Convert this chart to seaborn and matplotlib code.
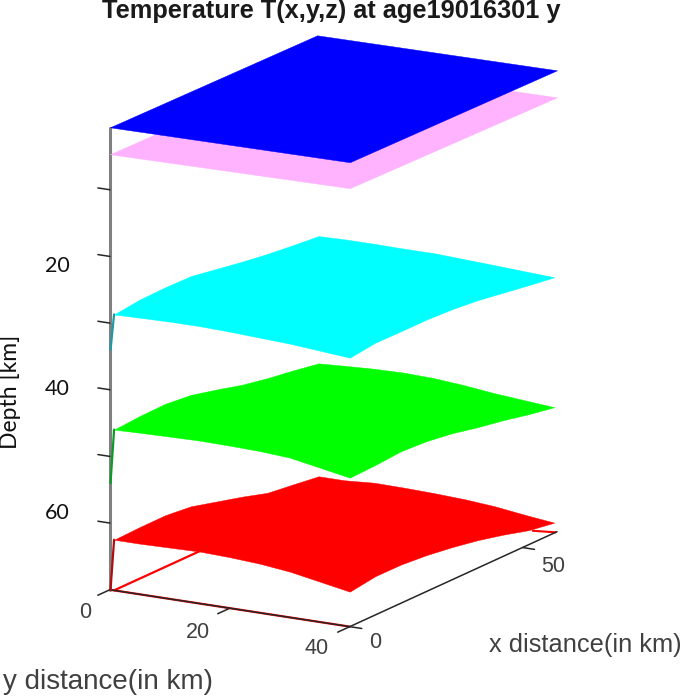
import matplotlib
matplotlib.use('Agg')
import matplotlib.pyplot as plt
import seaborn as sns
from mpl_toolkits.mplot3d.art3d import Poly3DCollection

sns.set_theme(style='white')

# positions along the edges of a surface (km)
x_nodes = [0, 7.4, 14.8, 22.2, 29.6, 37, 44.4, 51.8, 59.2]
y_nodes = [0.7, 5, 10, 15, 20, 25, 30, 35, 40]

# depth (km) along the four edges of each surface
red_y0 = [62.4, 62.26, 62.24, 62.66, 63.7, 64.73, 65.9, 66.4, 66.94]
red_xmax = [66.94, 66.94, 66.62, 66.67, 66.8, 67.0, 67.36, 67.94, 68.45]
red_y40 = [64.75, 64.18, 64.2, 64.54, 65.1, 65.81, 66.74, 67.82, 68.45]
red_x0 = [62.4, 62.4, 62.3, 62.2, 62.35, 62.63, 63.13, 63.94, 64.75]

green_y0 = [45.88, 45.6, 45.52, 45.94, 46.9, 47.93, 48.7, 49.3, 50.0]
green_xmax = [50.0, 49.76, 49.52, 49.42, 49.55, 49.91, 50.41, 50.77, 51.13]
green_y40 = [47.65, 47.5, 47.2, 47.44, 48.01, 48.86, 49.57, 50.42, 51.13]
green_x0 = [45.88, 45.76, 45.65, 45.56, 45.62, 45.74, 46.03, 46.84, 47.65]

cyan_y0 = [28.6, 28.13, 28.04, 28.12, 28.8, 29.48, 30.05, 30.5, 30.9]
cyan_xmax = [30.9, 30.79, 30.77, 30.82, 30.8, 31.0, 31.2, 31.42, 31.63]
cyan_y40 = [29.65, 29.15, 29.2, 29.21, 29.41, 29.81, 30.44, 31.07, 31.63]
cyan_x0 = [28.6, 28.5, 28.4, 28.39, 28.52, 28.73, 28.93, 29.29, 29.65]

# flat layers: corners (x, y) and depth
flat_x = [0, 60, 60, 0]
flat_y = [0, 0, 40, 40]
pink_depth = [4.67, 5.2, 4.83, 4.22]
blue_depth = [0.63, 1.07, 0.78, 0.33]

# corner spikes: depth of the surface corner and of the lower end
spike_cyan = [28.6, 34]
spike_green = [45.88, 54]
spike_red = [62.4, 70]

z_ticks = [10, 20, 30, 40, 50, 60]
z_labels = ['20', '40', '60']
y_ticks = [0, 20, 40]
x_ticks = [0, 50]

W, H = 685, 699
fig = plt.figure(figsize=(W / 100, H / 100), dpi=100, facecolor='white')
ax = fig.add_axes([-18.3 / W, 10.5 / H, 1, 1], projection='3d', computed_zorder=False)
ax.set_proj_type('ortho')
ax.view_init(elev=15.4, azim=-149.9)
ax.set_box_aspect((1.116, 0.7488, 1.294), zoom=0.979)
ax.set_xlim(0, 60, view_margin=0)
ax.set_ylim(40, 0, view_margin=0)
ax.set_zlim(70, 0.7, view_margin=0)
ax.set_axis_off()
ax.patch.set_alpha(0)


def add_layer(verts, color, zo):
    poly = Poly3DCollection([verts], facecolor=color, edgecolor=color, linewidth=0.3, zorder=zo)
    ax.add_collection3d(poly, autolim=False)


def ring(d_y0, d_xmax, d_y40, d_x0):
    verts = []
    verts += [(x_nodes[i], y_nodes[0], d_y0[i]) for i in range(9)]
    verts += [(x_nodes[-1], y_nodes[i], d_xmax[i]) for i in range(1, 9)]
    verts += [(x_nodes[i], y_nodes[-1], d_y40[i]) for i in range(7, -1, -1)]
    verts += [(x_nodes[0], y_nodes[i], d_x0[i]) for i in range(7, 0, -1)]
    return verts


# red lines on the floor, behind the red surface
ax.plot([0, 59.2], [0.7, 0.7], [70, 70], color='#ff0000', lw=1.6, zorder=1)
ax.plot([0, 0], [0, 40], [70, 70], color='#ff0000', lw=1.6, zorder=1)

add_layer(ring(red_y0, red_xmax, red_y40, red_x0), '#ff0000', 2)
add_layer(ring(green_y0, green_xmax, green_y40, green_x0), '#00ff00', 3)
add_layer(ring(cyan_y0, cyan_xmax, cyan_y40, cyan_x0), '#00ffff', 4)
add_layer(list(zip(flat_x, flat_y, pink_depth)), '#ffb3ff', 5)
add_layer(list(zip(flat_x, flat_y, blue_depth)), '#0000ff', 6)

# small red tail at the far corner
ax.plot([53, 59.6], [40, 40], [68.2, 70], color='#ff0000', lw=1.5, zorder=2)

# box lines
line_dark = '#262626'
ax.plot([0, 0], [0, 0], [0.7, 70], color='#808080', lw=2.2, zorder=1.5)
ax.plot([0, 0], [0, 40], [70, 70], color=line_dark, lw=1.1, zorder=7)
ax.plot([0, 60], [40, 40], [70, 70], color=line_dark, lw=1.1, zorder=7)

for z in z_ticks:
    ax.plot([0, 0], [0, -2], [z, z], color=line_dark, lw=1.1, zorder=7)
for y in y_ticks:
    ax.plot([0, -3.5], [y, y], [70, 70], color=line_dark, lw=1.1, zorder=7)
for x in x_ticks:
    ax.plot([x, x], [40, 42], [70, 70], color=line_dark, lw=1.1, zorder=7)

for spike, col in zip([spike_cyan, spike_green, spike_red], ['#1f9aa5', '#0c9c26', '#b00d0d']):
    ax.plot([0, 0], [0.7, 0.1], spike, color=col, lw=1.6, zorder=7)


def put(px, py, s, **kw):
    fig.text(px / W, 1 - py / H, s, ha='center', va='center', **kw)


put(331, 11, 'Temperature T(x,y,z) at age19016301 y', family='Liberation Sans', weight='bold',
    fontsize=18.3, color='#1a1a1a')

for lab, py in zip(z_labels, [266, 389, 513]):
    put(57, py, lab, family='Lato', fontsize=15.5, color='#111111')
put(10, 392, 'Depth [km]', family='Lato', fontsize=16.5, rotation=90, color='#111111')

grey = '#404040'
for lab, px, py in zip(['0', '20', '40'], [85, 198, 317], [612, 632, 649]):
    put(px, py, lab, family='Liberation Sans', fontsize=15.5, color=grey)
for lab, px, py in zip(['0', '50'], [375, 553], [643, 566]):
    put(px, py, lab, family='Liberation Sans', fontsize=15.5, color=grey)
put(585, 645, 'x distance(in km)', family='Liberation Sans', fontsize=18.3, color=grey)
put(108, 682, 'y distance(in km)', family='Liberation Sans', fontsize=20, color=grey)

fig.savefig('out.png', dpi=100, facecolor='white')
